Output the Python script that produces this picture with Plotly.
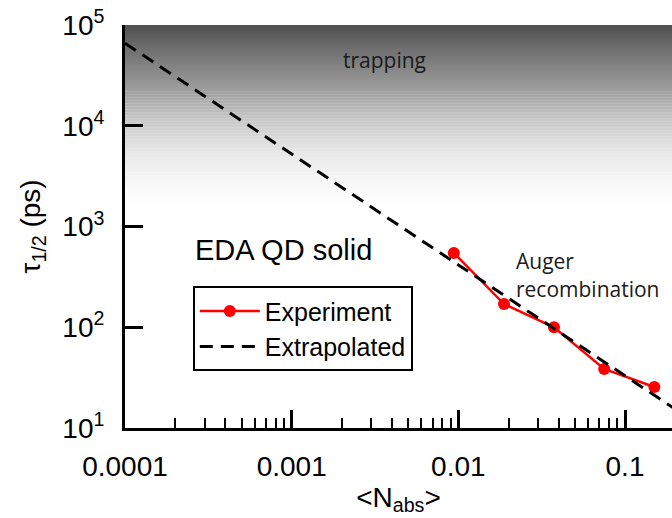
import numpy as np
import plotly.graph_objects as go

# Measured half-life versus mean absorbed excitons per dot
n_abs = [0.0094, 0.0188, 0.0375, 0.075, 0.15]
tau_half = [546, 170, 100, 38.5, 25.5]

# Extrapolated Auger line (end points)
fit_n = [0.0001, 0.2]
fit_tau = [66000, 15.4]

# Axis ticks
y_tickvals = [10, 100, 1000, 10000, 100000]
y_ticktext = ["10<sup>1</sup>", "10<sup>2</sup>", "10<sup>3</sup>", "10<sup>4</sup>", "10<sup>5</sup>"]
x_tickvals = [0.0001, 0.001, 0.01, 0.1]
x_ticktext = ["0.0001", "0.001", "0.01", "0.1"]

AX_FONT = "Liberation Sans, Arial, sans-serif"
NOTE_FONT = "Open Sans, sans-serif"

Y_LOG_MIN, Y_LOG_MAX = 1.0, 5.0
X_LOG_RANGE = [-4.0, -0.718]

fig = go.Figure()

# Grey "trapping" band fading to white (stops in log10 tau, grey level)
grad_log = [5.0, 4.72, 4.385, 4.06, 3.73, 3.39, 3.21]
grad_grey = [80, 116, 154, 200, 232, 250, 255]
n_strips = 120
edges = np.linspace(grad_log[0], grad_log[-1], n_strips + 1)
shapes = []
for top, bot in zip(edges[:-1], edges[1:]):
    mid = 0.5 * (top + bot)
    g = int(round(np.interp(mid, grad_log[::-1], grad_grey[::-1])))
    shapes.append(dict(
        type="rect", xref="paper", yref="paper",
        x0=0, x1=1,
        y0=(bot - Y_LOG_MIN) / (Y_LOG_MAX - Y_LOG_MIN) - 0.001,
        y1=(top - Y_LOG_MIN) / (Y_LOG_MAX - Y_LOG_MIN),
        fillcolor=f"rgb({g},{g},{g})", line=dict(width=0), layer="below",
    ))

fig.add_trace(go.Scatter(
    x=n_abs, y=tau_half, mode="lines+markers", name="Experiment",
    line=dict(color="#ff0000", width=2.5),
    marker=dict(color="#ff0000", size=12),
))
fig.add_trace(go.Scatter(
    x=fit_n, y=fit_tau, mode="lines", name="Extrapolated",
    line=dict(color="black", width=3, dash="13px,8px"),
))

fig.update_layout(
    width=672, height=518,
    margin=dict(l=125, r=0, t=25, b=90),
    paper_bgcolor="white", plot_bgcolor="white",
    shapes=shapes,
    showlegend=True,
    legend=dict(
        x=0.124, y=0.352, xanchor="left", yanchor="top",
        bordercolor="black", borderwidth=2, bgcolor="white",
        font=dict(family=AX_FONT, size=25, color="black"),
        tracegroupgap=0, itemwidth=60,
    ),
    font=dict(family=AX_FONT, color="black"),
)

fig.update_xaxes(
    type="log", range=X_LOG_RANGE,
    tickvals=x_tickvals, ticktext=x_ticktext,
    ticks="inside", ticklen=18, tickwidth=2.5, tickcolor="black",
    minor=dict(ticks="inside", ticklen=10, tickwidth=2, tickcolor="black", dtick="D1", showgrid=False),
    showline=True, linewidth=3, linecolor="black",
    showgrid=False, zeroline=False,
    tickfont=dict(family=AX_FONT, size=28, color="black"),
    ticklabelstandoff=11,
    title=dict(text="&lt;N<sub>abs</sub>&gt;", font=dict(family=AX_FONT, size=28, color="black"), standoff=6),
)
fig.update_yaxes(
    type="log", range=[Y_LOG_MIN, Y_LOG_MAX],
    tickvals=y_tickvals, ticktext=y_ticktext,
    ticks="inside", ticklen=18, tickwidth=2.5, tickcolor="black",
    showline=True, linewidth=3, linecolor="black",
    showgrid=False, zeroline=False,
    tickfont=dict(family=AX_FONT, size=28, color="black"),
    ticklabelstandoff=12,
    title=dict(text="τ<sub>1/2</sub> (ps)", font=dict(family=AX_FONT, size=28, color="black"), standoff=14),
)

fig.add_annotation(text="trapping", xref="paper", yref="paper", x=0.475, y=0.913,
                   showarrow=False, xanchor="center", yanchor="middle",
                   font=dict(family=NOTE_FONT, size=21, color="#1a1a1a"))
fig.add_annotation(text="Auger", xref="paper", yref="paper", x=0.712, y=(428 - 261) / 403,
                   showarrow=False, xanchor="left", yanchor="middle",
                   font=dict(family=NOTE_FONT, size=21, color="#1a1a1a"))
fig.add_annotation(text="recombination", xref="paper", yref="paper", x=0.712, y=(428 - 289) / 403,
                   showarrow=False, xanchor="left", yanchor="middle",
                   font=dict(family=NOTE_FONT, size=21, color="#1a1a1a"))
fig.add_annotation(text="EDA QD solid", xref="paper", yref="paper", x=(193 - 125) / 547, y=(428 - 250) / 403,
                   showarrow=False, xanchor="left", yanchor="middle",
                   font=dict(family=AX_FONT, size=29, color="black"))

fig.write_html("out.html")
